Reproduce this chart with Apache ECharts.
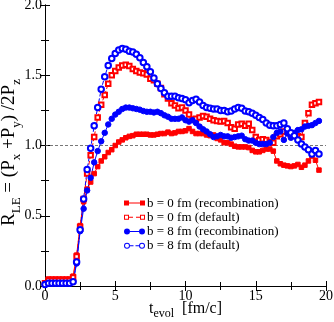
<!DOCTYPE html>
<html><head><meta charset="utf-8">
<script src="https://cdn.jsdelivr.net/npm/echarts@6/dist/echarts.min.js"></script>
<style>html,body{margin:0;padding:0;background:#fff}#c{width:334px;height:322px}</style>
</head><body><div id="c"></div>
<script>
const tEvol = [0,0.25,0.5,0.75,1,1.25,1.5,1.75,2,2.25,2.5,2.75,3,3.25,3.5,3.75,4,4.25,4.5,4.75,5,5.25,5.5,5.75,6,6.25,6.5,6.75,7,7.25,7.5,7.75,8,8.25,8.5,8.75,9,9.25,9.5,9.75,10,10.25,10.5,10.75,11,11.25,11.5,11.75,12,12.25,12.5,12.75,13,13.25,13.5,13.75,14,14.25,14.5,14.75,15,15.25,15.5,15.75,16,16.25,16.5,16.75,17,17.25,17.5,17.75,18,18.25,18.5,18.75,19,19.25,19.5];
const b0Recomb = [0.02,0.05,0.05,0.05,0.05,0.05,0.05,0.05,0.07,0.22,0.43,0.60,0.69,0.74,0.80,0.85,0.89,0.92,0.95,0.97,1.00,1.025,1.04,1.055,1.065,1.07,1.08,1.08,1.08,1.08,1.075,1.075,1.08,1.085,1.085,1.095,1.085,1.09,1.10,1.10,1.105,1.12,1.10,1.085,1.085,1.085,1.075,1.07,1.075,1.05,1.04,1.02,1.02,1.01,0.995,0.99,0.99,0.99,0.985,0.965,0.955,0.955,0.965,0.975,0.975,0.96,0.89,0.87,0.86,0.855,0.85,0.855,0.865,0.845,0.86,0.89,0.925,0.895,0.825];
const b0Default = [0.02,0.04,0.04,0.04,0.04,0.04,0.04,0.04,0.06,0.21,0.42,0.62,0.80,0.93,1.06,1.20,1.29,1.36,1.44,1.50,1.53,1.555,1.57,1.575,1.565,1.545,1.53,1.52,1.515,1.505,1.475,1.465,1.44,1.41,1.365,1.335,1.30,1.285,1.265,1.27,1.25,1.22,1.185,1.19,1.20,1.21,1.205,1.19,1.18,1.175,1.17,1.175,1.16,1.13,1.12,1.15,1.155,1.14,1.155,1.11,1.06,1.04,1.045,1.04,1.025,1.02,1.065,1.08,1.10,1.10,1.08,1.075,1.065,1.06,1.16,1.23,1.29,1.30,1.31];
const b8Recomb = [0.01,0.02,0.02,0.02,0.02,0.02,0.02,0.02,0.03,0.16,0.39,0.55,0.68,0.77,0.88,0.96,1.03,1.09,1.15,1.19,1.22,1.24,1.26,1.27,1.27,1.265,1.26,1.255,1.245,1.24,1.24,1.235,1.24,1.23,1.215,1.205,1.19,1.19,1.19,1.20,1.18,1.17,1.18,1.16,1.135,1.115,1.10,1.08,1.06,1.065,1.075,1.065,1.065,1.055,1.06,1.065,1.07,1.045,1.035,1.035,1.02,1.01,1.01,1.01,1.02,1.06,1.09,1.10,1.04,1.085,1.055,1.09,1.11,1.115,1.135,1.14,1.145,1.16,1.175];
const b8Default = [0.01,0.02,0.02,0.02,0.02,0.02,0.02,0.02,0.03,0.17,0.40,0.62,0.83,0.98,1.14,1.27,1.40,1.49,1.57,1.62,1.655,1.68,1.69,1.685,1.67,1.665,1.65,1.625,1.59,1.56,1.525,1.48,1.44,1.405,1.375,1.35,1.35,1.35,1.34,1.335,1.325,1.305,1.32,1.33,1.31,1.285,1.27,1.265,1.26,1.26,1.25,1.25,1.24,1.245,1.26,1.27,1.265,1.245,1.24,1.23,1.215,1.20,1.185,1.16,1.145,1.14,1.14,1.15,1.16,1.12,1.09,1.07,1.04,1.01,0.99,0.97,0.94,0.965,0.94];
const seriesNames = ['b = 0 fm (recombination)','b = 0 fm (default)','b = 8 fm (recombination)','b = 8 fm (default)'];
const xTicks = [0,5,10,15,20];
const yTicks = [0.0,0.5,1.0,1.5,2.0];
const refLine = 1.0;

const RED = '#ff0000', BLUE = '#0000ff';
const FONT = 'Liberation Serif';
const pairs = arr => tEvol.map((t,i)=>[t,arr[i]]);
const chart = echarts.init(document.getElementById('c'), null, {renderer:'canvas'});
const axisCommon = {
  axisLine:{show:true,lineStyle:{color:'#000',width:1}},
  splitLine:{show:false}, nameMoveOverlap:false
};
// legend icons: symbol - line - symbol (xmgrace style)
const ICONS = [
  'path://M0 0H5V5H0Z M16 0H21V5H16Z M5 2H16V3H5Z',
  'path://M0 0H5V5H0Z M1 1V4H4V1Z M16 0H21V5H16Z M17 1V4H20V1Z M5 2H9V3H5Z M12 2H16V3H12Z',
  'path://M0 3A3 3 0 1 1 6 3A3 3 0 1 1 0 3Z M15 3A3 3 0 1 1 21 3A3 3 0 1 1 15 3Z M6 2.5H15V3.5H6Z',
  'path://M0 3A3 3 0 1 1 6 3A3 3 0 1 1 0 3Z M1 3A2 2 0 1 0 5 3A2 2 0 1 0 1 3Z M15 3A3 3 0 1 1 21 3A3 3 0 1 1 15 3Z M16 3A2 2 0 1 0 20 3A2 2 0 1 0 16 3Z M6 2.5H9.5V3.5H6Z M11.5 2.5H15V3.5H11.5Z'
];
const COLORS = [RED, RED, BLUE, BLUE];
function mk(name, data, color, symbol, size, dashed){
  return {name, type:'line', data, color, symbol, symbolSize:size,
    lineStyle:{color, width:1, type: dashed ? [4,2] : 'solid'},
    itemStyle:{color, borderColor:color, borderWidth:1},
    emphasis:{disabled:true}, animation:false, z:3};
}
const option = {
  animation:false,
  grid:{left:45,right:8,top:5,bottom:36,containLabel:false,outerBoundsMode:'none'},
  legend:{
    orient:'vertical', left:119, top:191, itemWidth:21, itemHeight:6, itemGap:0,
    itemStyle:{borderWidth:0}, selectedMode:false,
    textStyle:{fontFamily:FONT,fontSize:13,color:'#000',lineHeight:14.2,padding:[0,0,0,-3]},
    data:seriesNames.map((n,i)=>({name:n, icon:ICONS[i], itemStyle:{color:COLORS[i],borderWidth:0}}))
  },
  xAxis:[{
    type:'value', min:xTicks[0], max:xTicks[xTicks.length-1], interval:5, ...axisCommon,
    axisTick:{show:true,inside:true,length:5,lineStyle:{color:'#000'}},
    minorTick:{show:true,splitNumber:2,length:4,lineStyle:{color:'#000'}},
    axisLabel:{fontFamily:FONT,fontSize:14,color:'#000',margin:3},
    name:'{a|t}{s|evol}{a|  [fm/c]}', nameLocation:'middle', nameGap:12,
    nameTextStyle:{rich:{a:{fontFamily:FONT,fontSize:16,color:'#000'},s:{fontFamily:FONT,fontSize:12,color:'#000',padding:[10,0,0,0]}}}
  },{
    type:'value', position:'top', min:0, max:20, interval:5, ...axisCommon,
    axisTick:{show:true,inside:true,length:5,lineStyle:{color:'#000'}},
    minorTick:{show:true,splitNumber:2,length:4,lineStyle:{color:'#000'}},
    axisLabel:{show:false}
  }],
  yAxis:[{
    type:'value', min:yTicks[0], max:yTicks[yTicks.length-1], interval:0.5, ...axisCommon,
    axisTick:{show:true,inside:true,length:5,lineStyle:{color:'#000'}},
    minorTick:{show:true,splitNumber:2,length:4,lineStyle:{color:'#000'}},
    axisLabel:{fontFamily:FONT,fontSize:14,color:'#000',margin:3,formatter:v=>v.toFixed(1)},
    name:'{a|R}{s|LE}{a| = (P}{s|x}{a| +P}{s|y}{a|) /2P}{s|z}', nameLocation:'middle', nameGap:21.5, nameRotate:90,
    nameTextStyle:{padding:[0,14,0,0],rich:{a:{fontFamily:FONT,fontSize:19,color:'#000'},s:{fontFamily:FONT,fontSize:13,color:'#000',padding:[16,0,0,0]}}}
  },{
    type:'value', position:'right', min:0, max:2, interval:0.5, ...axisCommon,
    axisTick:{show:true,inside:true,length:5,lineStyle:{color:'#000'}},
    minorTick:{show:true,splitNumber:2,length:4,lineStyle:{color:'#000'}},
    axisLabel:{show:false}
  }],
  series:[
    {type:'line', data:[[xTicks[0],refLine],[xTicks[xTicks.length-1],refLine]], symbol:'none', silent:true,
     lineStyle:{color:'#555',width:0.8,type:[3,2]}, z:1},
    mk(seriesNames[0], pairs(b0Recomb), RED, 'rect', 4.5, false),
    mk(seriesNames[1], pairs(b0Default), RED, 'emptyRect', 4.5, true),
    mk(seriesNames[2], pairs(b8Recomb), BLUE, 'circle', 5.5, false),
    mk(seriesNames[3], pairs(b8Default), BLUE, 'emptyCircle', 5.5, true)
  ]
};
chart.setOption(option);
</script></body></html>
